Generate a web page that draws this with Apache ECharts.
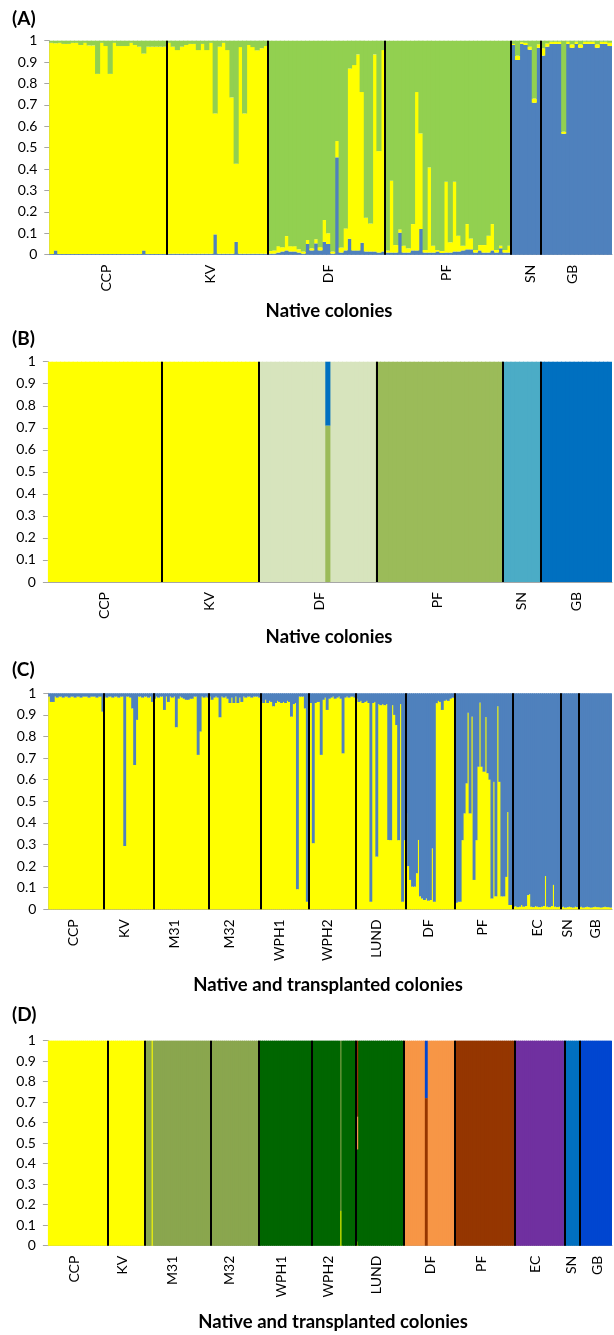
<!DOCTYPE html>
<html><head><meta charset="utf-8">
<script src="https://cdn.jsdelivr.net/npm/echarts/dist/echarts.min.js"></script>
<style>html,body{margin:0;padding:0;background:#fff}#c{width:614px;height:1335px}</style>
</head><body><div id="c"></div>
<script>
// ---------------- Panel A (native colonies, 3 clusters) ----------------
const A_groups = ['CCP','KV','DF','PF','SN','GB'];
const A_groupSizes = [28,24,28,30,7,17];
const A_labelIdx = [13,38,66,94,114,124];
const A_blue = [
 .003,.02,.003,.003,.003,.003,.003,.003,.003,.003,
 .003,.003,.003,.003,.003,.003,.003,.003,.003,.003,
 .003,.003,.02,.003,.003,.003,.003,.003,
 .004,.004,.004,.004,.004,.004,.004,.004,.004,.004,
 .004,.095,.004,.004,.004,.004,.06,.004,.004,.004,
 .004,.004,.004,.004,
 .005,.005,.01,.015,.02,.015,.015,.01,.005,.05,
 .02,.053,.02,.06,.05,.005,.455,.01,.02,.075,
 .02,.02,.056,.015,.015,.015,.01,.015,
 .01,.01,.01,.103,.01,.01,.02,.02,.12,.01,
 .01,.01,.015,.008,.01,.01,.015,.015,.02,.025,
 .025,.01,.02,.01,.01,.02,.01,.03,.01,.01,
 .98,.91,.985,.98,.958,.71,.967,
 .93,.972,.985,.985,.985,.565,.985,.967,.985,.967,.985,.985,.985,.967,.985,.985,.975];
const A_yellow = [
 .987,.968,.987,.982,.982,.987,.987,.977,.987,.975,
 .975,.842,.987,.972,.842,.987,.972,.972,.972,.987,
 .977,.969,.92,.969,.969,.969,.969,.969,
 .986,.968,.952,.968,.976,.981,.981,.952,.981,.952,
 .986,.565,.968,.986,.952,.731,.365,.966,.656,.976,
 .966,.951,.961,.971,
 .012,.015,.03,.02,.067,.025,.025,.015,.01,.019,
 .01,.019,.015,.102,.05,.01,.076,.024,.103,.795,
 .866,.916,.704,.158,.131,.921,.474,.941,
 .01,.336,.035,.015,.032,.02,.123,.74,.447,.012,
 .398,.032,.007,.009,.331,.048,.326,.074,.022,.118,
 .051,.012,.025,.035,.079,.123,.012,.012,.012,.032,
 .005,.02,.008,.01,.014,.02,.016,
 .035,.015,.01,.01,.01,.01,.01,.016,.01,.016,.01,.01,.01,.016,.01,.01,.015];
const A_green = [
 .01,.012,.01,.015,.015,.01,.01,.02,.01,.022,
 .022,.155,.01,.025,.155,.01,.025,.025,.025,.01,
 .02,.028,.06,.028,.028,.028,.028,.028,
 .01,.028,.044,.028,.02,.015,.015,.044,.015,.044,
 .01,.34,.028,.01,.044,.265,.575,.03,.34,.02,
 .03,.045,.035,.025,
 .983,.98,.96,.965,.913,.96,.96,.975,.985,.931,
 .97,.928,.965,.838,.9,.985,.469,.966,.877,.13,
 .114,.064,.24,.827,.854,.064,.516,.044,
 .98,.654,.955,.882,.958,.97,.857,.24,.433,.978,
 .592,.958,.978,.983,.659,.942,.659,.911,.958,.857,
 .924,.978,.955,.955,.911,.857,.978,.958,.978,.958,
 .015,.07,.007,.01,.028,.27,.017,
 .035,.013,.005,.005,.005,.425,.005,.017,.005,.017,.005,.005,.005,.017,.005,.005,.01];

// ---------------- Panel B (native colonies, 5 clusters) ----------------
const B_groups = ['CCP','KV','DF','PF','SN','GB'];
const B_groupSizes = [27,23,28,30,9,17];
const B_labelIdx = [13,38,64,92,112,125];
// cluster of each individual: 0 yellow, 1 DF, 2 PF, 3 SN, 4 GB
const B_member = [
 0,0,0,0,0,0,0,0,0,0, 0,0,0,0,0,0,0,0,0,0, 0,0,0,0,0,0,0,0,0,0,
 0,0,0,0,0,0,0,0,0,0, 0,0,0,0,0,0,0,0,0,0,
 1,1,1,1,1,1,1,1,1,1, 1,1,1,1,1,1,1,1,1,1, 1,1,1,1,1,1,1,1,2,2,
 2,2,2,2,2,2,2,2,2,2, 2,2,2,2,2,2,2,2,2,2, 2,2,2,2,2,2,2,2,3,3,
 3,3,3,3,3,3,3,4,4,4, 4,4,4,4,4,4,4,4,4,4, 4,4,4,4];
const B_mixedIdx = [66];
const B_mixedShares = [[0,0,0.71,0,0.29]];

// ---------------- Panel C (native + transplanted, 2 clusters) ----------------
const C_groups = ['CCP','KV','M31','M32','WPH1','WPH2','LUND','DF','PF','EC','SN','GB'];
const C_groupSizes = [28,25,28,26,24,24,25,25,29,24,9,17];
const C_labelIdx = [12,38,63,91,116,140,165,191,218,246,261,275];
const C_yellow = [
 .985,.96,.96,.985,.98,.985,.985,.98,.985,.985,
 .98,.985,.985,.98,.985,.985,.98,.985,.985,.985,
 .98,.985,.985,.985,.98,.985,.985,.915,.985,.98,
 .985,.985,.98,.985,.985,.98,.985,.985,.293,.985,
 .985,.98,.93,.668,.877,.985,.985,.98,.985,.985,
 .98,.985,.96,.975,.985,.98,.985,.985,.923,.985,
 .96,.985,.98,.985,.843,.975,.985,.98,.975,.97,
 .97,.975,.975,.985,.985,.715,.823,.985,.98,.985,
 .98,.985,.97,.98,.985,.98,.889,.985,.98,.985,
 .975,.955,.98,.955,.985,.955,.98,.96,.985,.98,
 .985,.985,.98,.985,.985,.985,.98,.965,.955,.97,
 .955,.965,.96,.94,.955,.965,.96,.955,.96,.955,
 .965,.96,.892,.95,.955,.093,.985,.985,.985,.93,
 .035,.98,.955,.306,.955,.96,.96,.715,.97,.98,
 .923,.975,.98,.985,.975,.98,.985,.975,.722,.98,
 .985,.98,.985,.985,.98,.975,.96,.965,.955,.96,
 .965,.955,.035,.955,.96,.244,.95,.945,.95,.945,
 .95,.321,.32,.945,.9,.853,.32,.95,.035,.32,
 .444,.2,.136,.105,.105,.167,.321,.06,.05,.043,
 .05,.04,.043,.282,.035,.954,.965,.96,.923,.965,
 .97,.965,.975,.98,.98,.03,.035,.035,.32,.444,
 .583,.91,.444,.892,.136,.32,.66,.957,.66,.637,
 .89,.63,.6,.05,.59,.06,.94,.59,.06,.06,
 .15,.45,.02,.02,.012,.015,.01,.012,.02,.012,
 .015,.066,.07,.012,.01,.015,.012,.01,.012,.015,
 .154,.012,.01,.015,.113,.012,.01,.012,.01,.012,
 .008,.01,.012,.01,.008,.012,.01,.01,.012,.008,
 .01,.012,.01,.008,.01,.012,.01,.01,.008,.01,
 .012,.01,.01,.008];
const C_blue = [
 .015,.04,.04,.015,.02,.015,.015,.02,.015,.015,
 .02,.015,.015,.02,.015,.015,.02,.015,.015,.015,
 .02,.015,.015,.015,.02,.015,.015,.085,.015,.02,
 .015,.015,.02,.015,.015,.02,.015,.015,.707,.015,
 .015,.02,.07,.332,.123,.015,.015,.02,.015,.015,
 .02,.015,.04,.025,.015,.02,.015,.015,.077,.015,
 .04,.015,.02,.015,.157,.025,.015,.02,.025,.03,
 .03,.025,.025,.015,.015,.285,.177,.015,.02,.015,
 .02,.015,.03,.02,.015,.02,.111,.015,.02,.015,
 .025,.045,.02,.045,.015,.045,.02,.04,.015,.02,
 .015,.015,.02,.015,.015,.015,.02,.035,.045,.03,
 .045,.035,.04,.06,.045,.035,.04,.045,.04,.045,
 .035,.04,.108,.05,.045,.907,.015,.015,.015,.07,
 .965,.02,.045,.694,.045,.04,.04,.285,.03,.02,
 .077,.025,.02,.015,.025,.02,.015,.025,.278,.02,
 .015,.02,.015,.015,.02,.025,.04,.035,.045,.04,
 .035,.045,.965,.045,.04,.756,.05,.055,.05,.055,
 .05,.679,.68,.055,.1,.147,.68,.05,.965,.68,
 .556,.8,.864,.895,.895,.833,.679,.94,.95,.957,
 .95,.96,.957,.718,.965,.046,.035,.04,.077,.035,
 .03,.035,.025,.02,.02,.97,.965,.965,.68,.556,
 .417,.09,.556,.108,.864,.68,.34,.043,.34,.363,
 .11,.37,.4,.95,.41,.94,.06,.41,.94,.94,
 .85,.55,.98,.98,.988,.985,.99,.988,.98,.988,
 .985,.934,.93,.988,.99,.985,.988,.99,.988,.985,
 .846,.988,.99,.985,.887,.988,.99,.988,.99,.988,
 .992,.99,.988,.99,.992,.988,.99,.99,.988,.992,
 .99,.988,.99,.992,.99,.988,.99,.99,.992,.99,
 .988,.99,.99,.992];

// ---------------- Panel D (native + transplanted, 8 clusters) ----------------
const D_groups = ['CCP','KV','M31','M32','WPH1','WPH2','LUND','DF','PF','EC','SN','GB'];
const D_groupSizes = [30,19,33,24,27,22,24,26,30,25,8,16];
const D_labelIdx = [13,37,62,91,117,141,165,192,218,245,263,276];
// cluster of each individual: 0 yellow, 1 olive, 2 dark green, 3 orange, 4 brown, 5 purple, 6 SN blue, 7 GB blue
const D_member = [
 0,0,0,0,0,0,0,0,0,0, 0,0,0,0,0,0,0,0,0,0, 0,0,0,0,0,0,0,0,0,0, 0,0,0,0,0,0,0,0,0,0,
 0,0,0,0,0,0,0,0,0,1, 1,1,0,1,1,1,1,1,1,1,
 1,1,1,1,1,1,1,1,1,1, 1,1,1,1,1,1,1,1,1,1, 1,1,1,1,1,1,1,1,1,1, 1,1,1,1,1,1,1,1,1,1,
 1,1,1,1,1,1,2,2,2,2,
 2,2,2,2,2,2,2,2,2,2, 2,2,2,2,2,2,2,2,2,2, 2,2,2,2,2,2,2,2,2,2, 2,2,2,2,2,2,2,2,2,2,
 2,2,2,2,2,2,2,2,2,2, 2,2,2,2,2,2,2,2,2,2,
 2,2,2,2,2,2,2,2,2,3,
 3,3,3,3,3,3,3,3,3,3, 3,3,3,3,3,3,3,3,3,3,
 3,3,3,3,3,4,4,4,4,4,
 4,4,4,4,4,4,4,4,4,4, 4,4,4,4,4,4,4,4,4,4,
 4,4,4,4,4,5,5,5,5,5,
 5,5,5,5,5,5,5,5,5,5, 5,5,5,5,5,5,5,5,5,5,
 6,6,6,6,6,6,6,6,7,7,
 7,7,7,7,7,7,7,7,7,7, 7,7,7,7];
const D_mixedIdx = [147,155,190];
const D_mixedShares = [
 [0.17,0.83,0,0,0,0,0,0],
 [0.02,0,0.45,0.16,0.37,0,0,0],
 [0,0,0,0,0.72,0,0,0.28]];

// ---------------- styling ----------------
const FONT = 'Lato';
const COL_A = ['#4F81BD','#FFFF00','#92D050'];
const COL_B = ['#FFFF00','#D7E4BD','#9BBB59','#4BACC6','#0070C0'];
const COL_C = ['#FFFF00','#4F81BD'];
const COL_D = ['#FFFF00','#8AA64E','#006600','#F79646','#953600','#7030A0','#0070C0','#0046D0'];

function sharesFrom(member, mixedIdx, mixedShares, k) {
  return member.map((m, i) => {
    const p = mixedIdx.indexOf(i);
    if (p >= 0) return mixedShares[p][k];
    return m === k ? 1 : 0;
  });
}

const panels = [
  {tag:'(A)', title:'Native colonies', rect:{left:49.3, top:40.7, width:562.7, height:214},
   groups:A_groups, sizes:A_groupSizes, labelIdx:A_labelIdx,
   layers:[A_blue, A_yellow, A_green], colors:COL_A, tagY:21, titleX:329, titleY:311.5},
  {tag:'(B)', title:'Native colonies', rect:{left:47.9, top:361.7, width:564.1, height:220.3},
   groups:B_groups, sizes:B_groupSizes, labelIdx:B_labelIdx,
   layers:COL_B.map((c,k)=>sharesFrom(B_member,B_mixedIdx,B_mixedShares,k)), colors:COL_B, tagY:341, titleX:329, titleY:637},
  {tag:'(C)', title:'Native and transplanted colonies', rect:{left:48.3, top:693.3, width:563.7, height:216},
   groups:C_groups, sizes:C_groupSizes, labelIdx:C_labelIdx,
   layers:[C_yellow, C_blue], colors:COL_C, tagY:672, titleX:328, titleY:985},
  {tag:'(D)', title:'Native and transplanted colonies', rect:{left:47.9, top:1040.7, width:564.1, height:205},
   groups:D_groups, sizes:D_groupSizes, labelIdx:D_labelIdx,
   layers:COL_D.map((c,k)=>sharesFrom(D_member,D_mixedIdx,D_mixedShares,k)), colors:COL_D, tagY:1017, titleX:333, titleY:1322}
];

const option = {animation:false, backgroundColor:'#fff', grid:[], xAxis:[], yAxis:[], series:[], graphic:[]};

panels.forEach((p, g) => {
  const n = p.layers[0].length;
  const band = p.rect.width / n;
  const cats = p.layers[0].map((v, i) => String(i + 1));
  const labelMap = {};
  p.labelIdx.forEach((idx, j) => { labelMap[idx] = p.groups[j]; });
  option.grid.push(Object.assign({}, p.rect));
  option.xAxis.push({
    type:'category', gridIndex:g, data:cats, boundaryGap:true,
    axisLine:{show:true, lineStyle:{color:'#A6A6A6', width:1}},
    axisTick:{show:false},
    axisLabel:{interval:0, rotate:90, margin:10, fontFamily:FONT, fontSize:14, color:'#000',
      formatter:(v, idx) => labelMap[idx] || ''}
  });
  option.xAxis.push({type:'value', gridIndex:g, min:0, max:n, show:false});
  option.yAxis.push({
    type:'value', gridIndex:g, min:0, max:1, interval:0.1,
    axisLine:{show:true, lineStyle:{color:'#A6A6A6', width:1}},
    axisTick:{show:true, length:5, lineStyle:{color:'#A6A6A6'}},
    splitLine:{show:false},
    axisLabel:{fontFamily:FONT, fontSize:14, color:'#000', margin:12,
      formatter:v => String(+v.toFixed(1))}
  });
  p.layers.forEach((arr, k) => {
    option.series.push({
      type:'bar', xAxisIndex:2*g, yAxisIndex:g, stack:'s'+g, data:arr,
      barWidth: band + 0.9, barGap:'-100%',
      itemStyle:{color:p.colors[k], borderWidth:0},
      emphasis:{disabled:true}, silent:true
    });
  });
  // group dividers at cumulative group boundaries
  const lines = [];
  let acc = 0;
  p.sizes.forEach((s, j) => {
    acc += s;
    if (j < p.sizes.length - 1) lines.push({coords:[[acc, 0], [acc, 1]]});
  });
  option.series.push({
    type:'lines', coordinateSystem:'cartesian2d', xAxisIndex:2*g+1, yAxisIndex:g,
    data:lines, lineStyle:{color:'#000', width:2, opacity:1}, silent:true, z:10
  });
  option.graphic.push({type:'text', left:12, top:p.tagY - 12,
    style:{text:p.tag, font:'bold 19px ' + FONT, fill:'#000'}});
  option.graphic.push({type:'text', x:p.titleX, y:p.titleY,
    style:{text:p.title, font:'bold 18.5px ' + FONT, fill:'#000', textAlign:'center', textVerticalAlign:'middle'}});
});

const chart = echarts.init(document.getElementById('c'), null, {renderer:'canvas'});
chart.setOption(option);
</script></body></html>
